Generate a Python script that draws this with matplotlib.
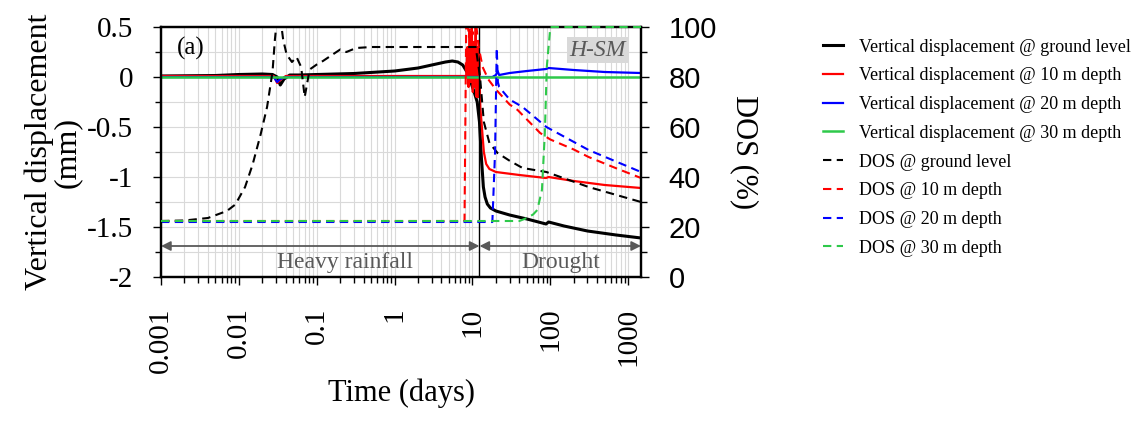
import matplotlib
matplotlib.use('Agg')
import matplotlib.pyplot as plt
from matplotlib.ticker import FixedLocator, MultipleLocator, LogLocator, NullFormatter
import numpy as np

plt.rcParams['font.family'] = ['Liberation Serif', 'DejaVu Serif']
plt.rcParams['axes.unicode_minus'] = False

# vertical displacement (mm)
t_disp_gl = [0.001, 0.005, 0.01, 0.02, 0.027, 0.031, 0.034, 0.038, 0.045, 0.06, 0.1, 0.3, 1, 2, 3, 4.5,
             5.5, 6.5, 7.5, 8.5, 9.5, 10.5, 11.5, 12.3, 13, 13.8, 14.5, 15.5, 17, 20, 30, 50, 88, 95,
             150, 300, 700, 1460]
disp_gl = [0.01, 0.015, 0.025, 0.03, 0.025, 0.0, -0.08, -0.02, 0.02, 0.02, 0.025, 0.035, 0.06, 0.09,
           0.12, 0.15, 0.16, 0.15, 0.12, 0.05, -0.05, -0.15, -0.25, -0.45, -0.8, -1.1, -1.2, -1.27,
           -1.31, -1.34, -1.38, -1.42, -1.47, -1.45, -1.49, -1.54, -1.58, -1.61]

t_disp_10 = [0.001, 0.028, 0.031, 0.034, 0.04, 1, 8.3, 8.6, 8.9, 9.2, 9.5, 9.8, 10.1, 10.4, 10.7, 11.0,
             11.3, 11.6, 11.9, 12.2, 12.6, 13.2, 14, 15, 16.5, 20, 40, 88, 95, 200, 500, 1460]
disp_10 = [0.01, 0.01, -0.06, -0.03, 0.01, 0.01, 0.01, 0.3, -0.1, 0.45, -0.05, 0.5, -0.15, 0.35, -0.1,
           0.5, -0.2, 0.3, -0.2, 0.15, -0.3, -0.5, -0.75, -0.87, -0.92, -0.95, -0.98, -1.01, -1.0,
           -1.04, -1.08, -1.11]

t_disp_20 = [0.001, 0.028, 0.031, 0.034, 0.04, 18, 20, 21, 22, 30, 50, 88, 95, 200, 500, 1460]
disp_20 = [0.0, 0.0, -0.05, -0.02, 0.0, 0.0, 0.02, 0.06, 0.02, 0.04, 0.06, 0.08, 0.09, 0.07, 0.05, 0.04]

t_disp_30 = [0.001, 1460]
disp_30 = [0.0, 0.0]

# degree of saturation (%)
t_dos_gl = [0.001, 0.002, 0.004, 0.007, 0.009, 0.012, 0.015, 0.019, 0.023, 0.027, 0.029, 0.031, 0.034,
            0.037, 0.041, 0.048, 0.055, 0.063, 0.07, 0.081, 0.1, 0.12, 0.16, 0.2, 0.24, 0.32, 0.5, 1,
            5, 11, 12.5, 14, 16.5, 21, 30, 44, 89, 310, 1460]
dos_gl = [22.4, 22.6, 23.6, 26.4, 29, 36, 45, 57, 68, 82, 95, 104, 104, 95, 89, 86, 88, 84, 72, 83, 85,
          86.4, 89, 91, 90, 91.6, 92, 92, 92, 92, 80, 62, 53.6, 49.6, 46.5, 43.6, 42, 36, 30]

t_dos_10 = [0.001, 7.9, 8.3, 8.6, 9.0, 9.5, 10, 11, 12, 13.5, 16, 20, 30, 38, 50, 74, 100, 200, 310,
            700, 1460]
dos_10 = [22.4, 22.4, 100, 103, 96, 103, 97, 103, 92, 84, 79, 75, 69, 66.8, 63, 57.6, 55, 51, 48,
          43.5, 39.6]

t_dos_20 = [0.001, 18, 19.5, 20.5, 21.2, 22, 30, 44, 89, 310, 1460]
dos_20 = [22.0, 22.0, 50, 91.6, 78, 76, 71, 68, 60, 50.8, 42]

t_dos_30 = [0.001, 40, 50, 60, 68, 78, 85, 90, 100, 1460]
dos_30 = [22.4, 22.4, 23.6, 25, 26.8, 34.8, 57.6, 84, 100, 100]

t_switch = 12.3
t_end = 1460

x_ticks = [0.001, 0.01, 0.1, 1, 10, 100, 1000]
x_labels = ['0.001', '0.01', '0.1', '1', '10', '100', '1000']
y_ticks = [0.5, 0, -0.5, -1, -1.5, -2]
y_labels = ['0.5', '0', '-0.5', '-1', '-1.5', '-2']

green = '#2ec94a'
dash = (0, (4, 2.6))

fig = plt.figure(figsize=(11.43, 4.24), dpi=100)
ax = fig.add_axes([0.1409, 0.3467, 0.4199, 0.5896])
ax2 = ax.twinx()

ax.set_xscale('log')
ax.set_xlim(0.001, t_end)
ax.set_ylim(-2, 0.5)
ax2.set_ylim(0, 100)

ax.grid(True, which='both', color='#d9d9d9', lw=0.8)
ax.set_axisbelow(True)

l1, = ax.plot(t_disp_gl, disp_gl, color='black', lw=2.2)
l2, = ax.plot(t_disp_10, disp_10, color='red', lw=1.6)
l3, = ax.plot(t_disp_20, disp_20, color='blue', lw=1.6)
l4, = ax.plot(t_disp_30, disp_30, color=green, lw=1.8)
l5, = ax2.plot(t_dos_gl, dos_gl, color='black', lw=1.5, ls=dash)
l6, = ax2.plot(t_dos_10, dos_10, color='red', lw=1.5, ls=dash)
l7, = ax2.plot(t_dos_20, dos_20, color='blue', lw=1.5, ls=dash)
l8, = ax2.plot(t_dos_30, dos_30, color=green, lw=1.5, ls=dash, zorder=3, clip_on=False)

ax.axvline(t_switch, color='black', lw=1.0)

# rainfall / drought periods
arrow = dict(arrowstyle='<|-|>', color='#595959', lw=1.3, mutation_scale=14, shrinkA=0, shrinkB=0)
ax.annotate('', xy=(0.001, -1.69), xytext=(t_switch, -1.69), arrowprops=arrow)
ax.annotate('', xy=(t_switch, -1.69), xytext=(t_end, -1.69), arrowprops=arrow)
ax.text(0.23, -1.86, 'Heavy rainfall', color='#595959', fontsize=17, ha='center', va='center')
ax.text(135, -1.86, 'Drought', color='#595959', fontsize=17, ha='center', va='center')

ax.text(0.0016, 0.29, '(a)', fontsize=18, ha='left', va='center')
ax2.text(0.91, 0.908, 'H-SM', transform=ax.transAxes, fontsize=17, style='italic', color='#595959',
         ha='center', va='center', bbox=dict(facecolor='#d9d9d9', edgecolor='none', pad=2))

# axes formatting
ax.xaxis.set_major_locator(FixedLocator(x_ticks))
ax.set_xticklabels(x_labels, rotation=90, fontsize=21)
ax.xaxis.set_minor_locator(LogLocator(base=10, subs=np.arange(2, 10), numticks=20))
ax.xaxis.set_minor_formatter(NullFormatter())
ax.set_yticks(y_ticks)
ax.set_yticklabels(y_labels, fontsize=21)
ax.yaxis.set_minor_locator(MultipleLocator(0.25))
ax2.set_yticks([0, 20, 40, 60, 80, 100])
ax2.set_yticklabels(['0', '20', '40', '60', '80', '100'], fontsize=21, family='Liberation Sans')
ax2.yaxis.set_minor_locator(MultipleLocator(10))

ax.tick_params(which='major', direction='out', length=6, width=1, pad=14)
ax.tick_params(which='minor', direction='out', length=4, width=1)
ax.tick_params(axis='x', which='major', pad=16)
ax2.tick_params(which='major', direction='out', length=6, width=1, pad=14)
ax2.tick_params(which='minor', direction='out', length=4, width=1)

for a in (ax, ax2):
    for s in a.spines.values():
        s.set_linewidth(1.6)

ax.set_xlabel('Time (days)', fontsize=22, labelpad=4)
ax.set_ylabel('Vertical displacement\n(mm)', fontsize=23, linespacing=0.95, labelpad=4)
ax2.set_ylabel('DOS (%)', fontsize=22, rotation=270, labelpad=30)

fig.legend([l1, l2, l3, l4, l5, l6, l7, l8],
           ['Vertical displacement @ ground level', 'Vertical displacement @ 10 m depth',
            'Vertical displacement @ 20 m depth', 'Vertical displacement @ 30 m depth',
            'DOS @ ground level', 'DOS @ 10 m depth', 'DOS @ 20 m depth', 'DOS @ 30 m depth'],
           loc='upper left', bbox_to_anchor=(0.714, 0.926), frameon=False, fontsize=13,
           handlelength=1.1, handletextpad=0.85, labelspacing=0.65, borderaxespad=0)

fig.savefig('out.png', dpi=100)
